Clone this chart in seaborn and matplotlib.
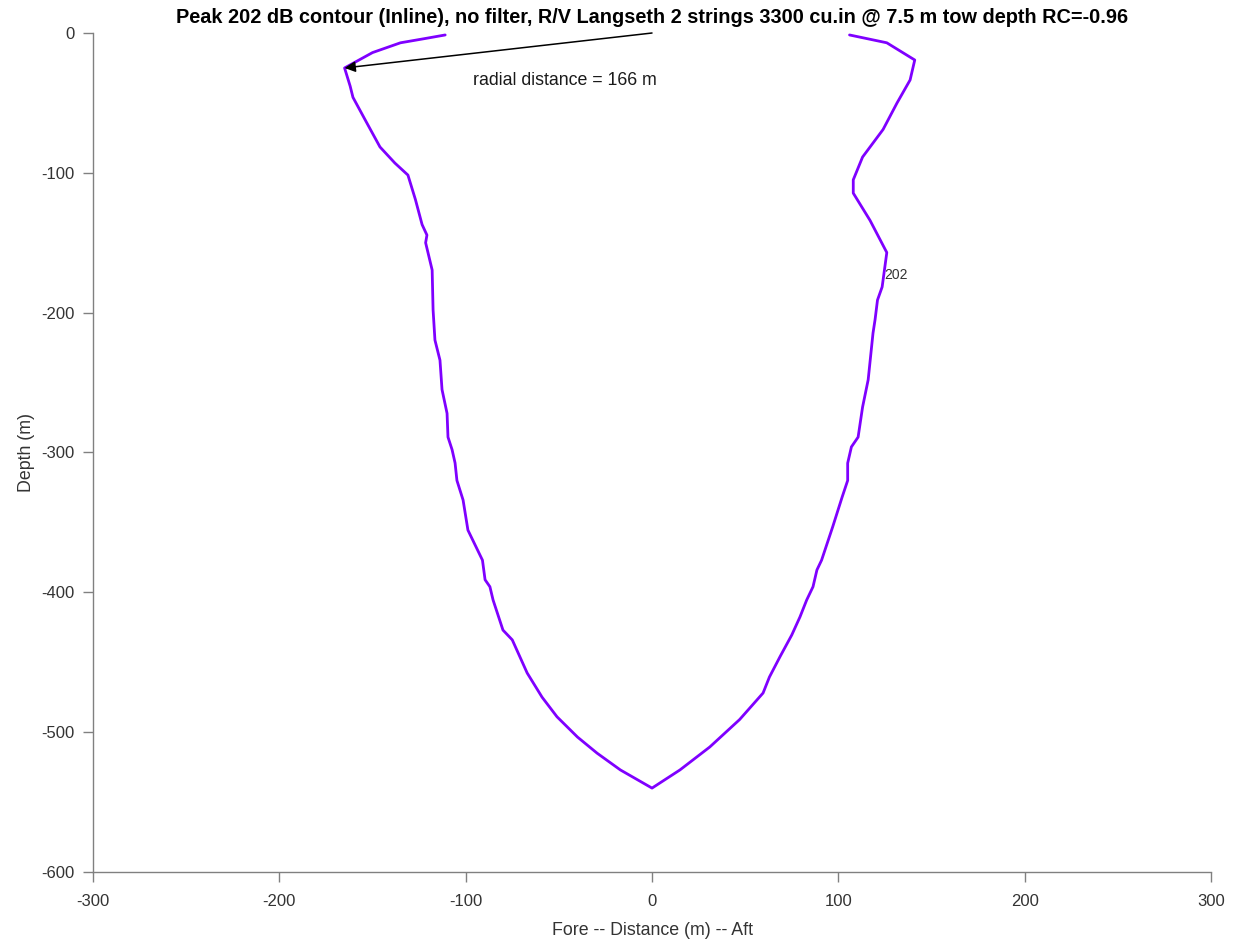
import matplotlib
matplotlib.use("Agg")
import matplotlib.pyplot as plt
import seaborn as sns
import pandas as pd

# ---- data ----
left_x = [-111, -122, -135, -150, -165, -162, -160.5, -154, -146, -138, -131, -127,
          -123.4, -120.8, -121.5, -118, -117.5, -116.5, -113.8, -112.7, -110, -109.5,
          -107.3, -105.7, -104.7, -101.4, -98.8, -91, -89.6, -87, -85.3, -80, -75,
          -67, -59, -51, -40, -29.5, -17, 0]
left_y = [-1.4, -4, -7, -14, -25, -38, -46, -62, -81.5, -93, -101.6, -119,
          -137, -144.5, -150, -169.5, -198, -219.6, -234, -255, -272, -289,
          -298, -307.5, -320, -334, -355.5, -377, -391, -396, -405.5, -427, -434,
          -457.7, -475, -489, -503.5, -515, -527, -540]
right_x = [15, 31, 47, 59.6, 63, 68.7, 75, 79.4, 83, 86.4, 88.5, 91, 97, 102, 105,
           105, 107, 110.6, 113, 116, 118.6, 119.7, 121, 123.5, 126, 117, 108, 108,
           113, 124, 131.5, 138.5, 141, 126, 106]
right_y = [-527, -510.6, -491, -472, -460.6, -446, -430.5, -417.6, -405.5, -396,
           -384, -377, -353, -332, -320, -307.6, -296, -289, -267.5, -248, -214.6,
           -205, -191, -181.6, -157, -134, -114.5, -105, -88.7, -69, -50, -33.6,
           -19.3, -7, -1.4]

title = ("Peak 202 dB contour (Inline), no filter, R/V Langseth 2 strings "
         "3300 cu.in @ 7.5 m tow depth RC=-0.96")
x_ticks = [-300, -200, -100, 0, 100, 200, 300]
y_ticks = [-600, -500, -400, -300, -200, -100, 0]
arrow_tip = (-165, -25)
arrow_tail = (0, 0)
annot_text = "radial distance = 166 m"
annot_pos = (-47, -34)
clabel_text = "202"
clabel_pos = (124.5, -176)

df = pd.DataFrame({"x": left_x + right_x, "y": left_y + right_y})

sns.set_theme(style="white")
plt.rcParams["font.family"] = ["Liberation Sans", "DejaVu Sans"]
plt.rcParams["axes.unicode_minus"] = False

fig = plt.figure(figsize=(12.37, 9.43), dpi=100)
ax = fig.add_axes([0.0752, 0.0753, 0.9038, 0.8897])

sns.lineplot(data=df, x="x", y="y", sort=False, estimator=None, ax=ax,
             color="#7f00ff", linewidth=2.0)

ax.set_xlim(-300, 300)
ax.set_ylim(-600, 0)
ax.set_xticks(x_ticks)
ax.set_yticks(y_ticks)
ax.set_xlabel("Fore -- Distance (m) -- Aft", fontsize=12.8, color="#333333", labelpad=9)
ax.set_ylabel("Depth (m)", fontsize=12.8, color="#333333", labelpad=5)
ax.tick_params(axis="both", which="major", direction="out", length=7, width=1,
               colors="#808080", labelcolor="#333333", labelsize=12,
               bottom=True, left=True, top=False, right=False)
ax.tick_params(axis="x", pad=9)
ax.tick_params(axis="y", pad=6)
for s in ["top", "right"]:
    ax.spines[s].set_visible(False)
for s in ["left", "bottom"]:
    ax.spines[s].set_color("#808080")
    ax.spines[s].set_linewidth(1)

ax.set_title(title, fontsize=14.3, fontweight="bold", color="black", pad=7)

ax.annotate("", xy=arrow_tip, xytext=arrow_tail,
            arrowprops=dict(arrowstyle="-|>", color="black", lw=1.1,
                            mutation_scale=16, shrinkA=0, shrinkB=0))
ax.text(annot_pos[0], annot_pos[1], annot_text, ha="center", va="center",
        fontsize=12.8, color="#1a1a1a")
ax.text(clabel_pos[0], clabel_pos[1], clabel_text, ha="left", va="baseline",
        fontsize=10, color="#333333")

fig.savefig("out.png", dpi=100)
